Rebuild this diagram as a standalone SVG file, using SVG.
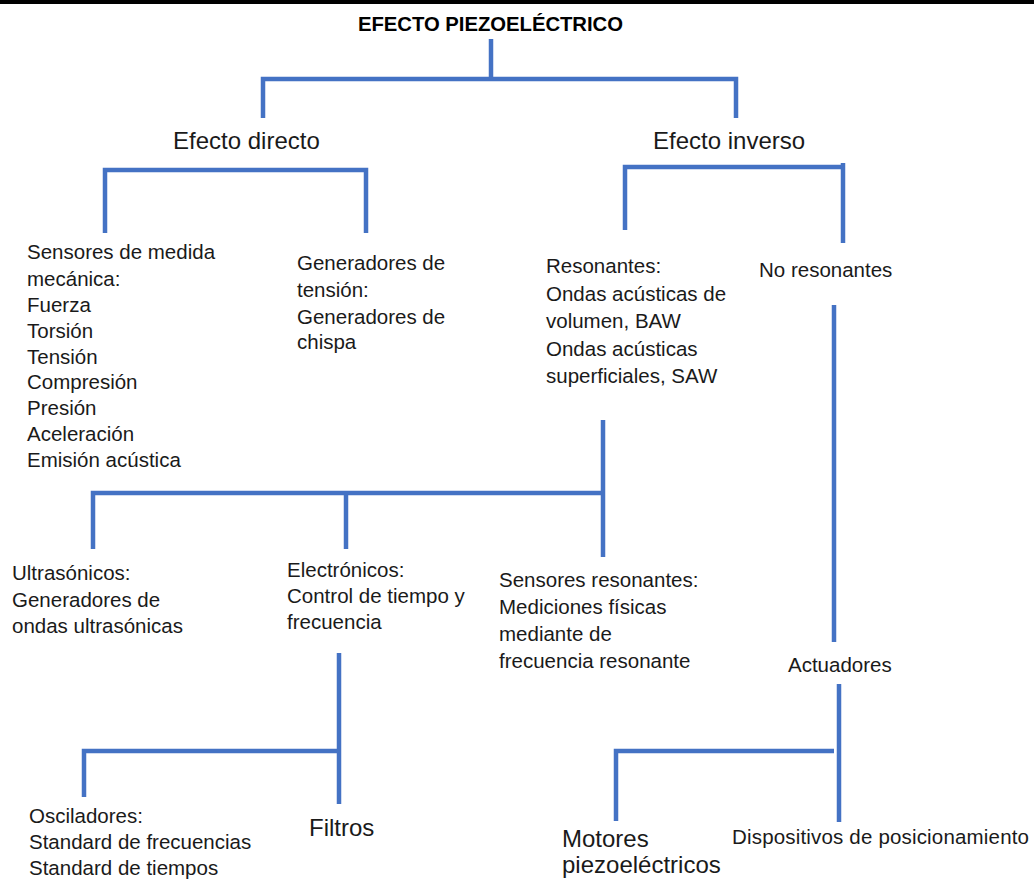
<svg xmlns="http://www.w3.org/2000/svg" width="1034" height="883" viewBox="0 0 1034 883">
<style>
text{font-family:"Liberation Sans",Arial,sans-serif;fill:#1a1a1a;font-size:20.5px}
.h{font-size:24px}
.t{font-size:20.3px;font-weight:bold;fill:#000}
.c{fill:none;stroke:#4472C4;stroke-width:4.5;stroke-linejoin:miter;stroke-linecap:butt}
</style>
<rect x="0" y="0" width="1034" height="4" fill="#000"/>
<rect x="0" y="4" width="1034" height="879" fill="#fff"/>
<g id="connectors" class="c">
<path d="M491,39 V79"/>
<path d="M263,118 V79 H736 V118"/>
<path d="M105,233 V170 H366 V233"/>
<path d="M625,230 V167 H843"/>
<path d="M843,163 V243"/>
<path d="M603,420 V557"/>
<path d="M93,549 V493 H603"/>
<path d="M346,493 V549"/>
<path d="M834,305 V642"/>
<path d="M339,653 V804"/>
<path d="M84,797 V751 H339"/>
<path d="M839,684 V822"/>
<path d="M616,821 V751 H834"/>
</g>
<g id="title"><text class="t" x="358" y="31" textLength="265">EFECTO PIEZOELÉCTRICO</text></g>
<g id="efecto-directo"><text class="h" x="173" y="149">Efecto directo</text></g>
<g id="efecto-inverso"><text class="h" x="653" y="149">Efecto inverso</text></g>
<g id="sensores-medida">
<text x="27" y="259">Sensores de medida</text>
<text x="27" y="286">mecánica:</text>
<text x="27" y="312">Fuerza</text>
<text x="27" y="338">Torsión</text>
<text x="27" y="364">Tensión</text>
<text x="27" y="389">Compresión</text>
<text x="27" y="415">Presión</text>
<text x="27" y="441">Aceleración</text>
<text x="27" y="467">Emisión acústica</text>
</g>
<g id="generadores-tension">
<text x="297" y="270">Generadores de</text>
<text x="297" y="297">tensión:</text>
<text x="297" y="324">Generadores de</text>
<text x="297" y="349">chispa</text>
</g>
<g id="resonantes">
<text x="546" y="273">Resonantes:</text>
<text x="546" y="301">Ondas acústicas de</text>
<text x="546" y="328">volumen, BAW</text>
<text x="546" y="356">Ondas acústicas</text>
<text x="546" y="383">superficiales, SAW</text>
</g>
<g id="no-resonantes"><text x="759" y="277">No resonantes</text></g>
<g id="ultrasonicos">
<text x="12" y="580">Ultrasónicos:</text>
<text x="12" y="607">Generadores de</text>
<text x="12" y="633">ondas ultrasónicas</text>
</g>
<g id="electronicos">
<text x="287" y="577">Electrónicos:</text>
<text x="287" y="603">Control de tiempo y</text>
<text x="287" y="629">frecuencia</text>
</g>
<g id="sensores-resonantes">
<text x="499" y="587">Sensores resonantes:</text>
<text x="499" y="614">Mediciones físicas</text>
<text x="499" y="641">mediante de</text>
<text x="499" y="668">frecuencia resonante</text>
</g>
<g id="actuadores"><text x="788" y="672">Actuadores</text></g>
<g id="osciladores">
<text x="29" y="823">Osciladores:</text>
<text x="29" y="849">Standard de frecuencias</text>
<text x="29" y="875">Standard de tiempos</text>
</g>
<g id="filtros"><text class="h" x="309" y="836">Filtros</text></g>
<g id="motores">
<text class="h" x="562" y="847">Motores</text>
<text class="h" x="562" y="873">piezoeléctricos</text>
</g>
<g id="dispositivos"><text x="732" y="844" textLength="297">Dispositivos de posicionamiento</text></g>
</svg>
